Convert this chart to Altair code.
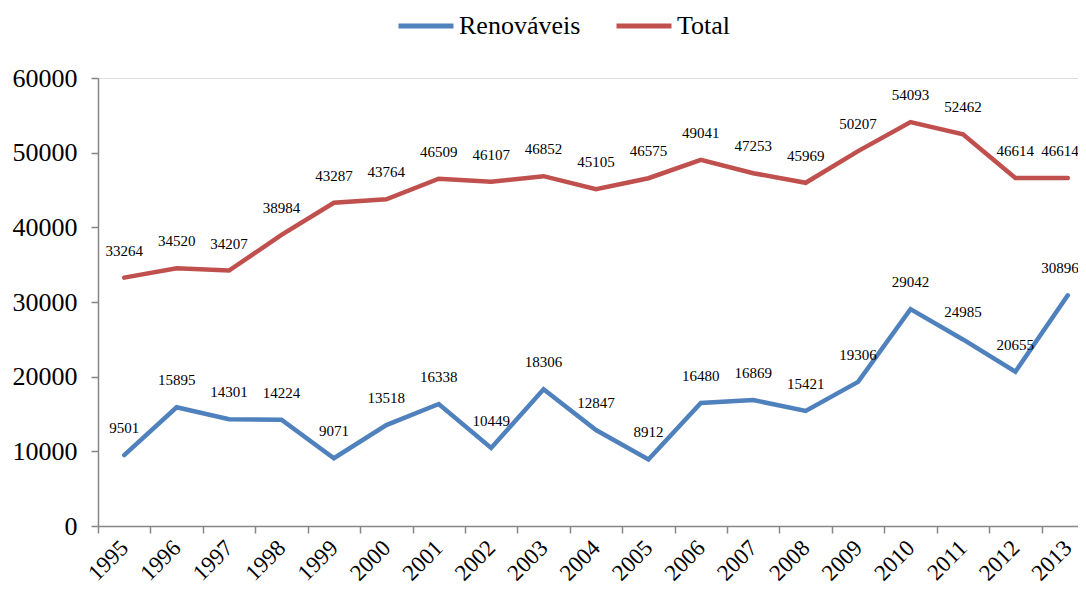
import altair as alt
import pandas as pd

years = [str(y) for y in range(1995, 2014)]
renovaveis = [9501, 15895, 14301, 14224, 9071, 13518, 16338, 10449, 18306, 12847,
              8912, 16480, 16869, 15421, 19306, 29042, 24985, 20655, 30896]
total = [33264, 34520, 34207, 38984, 43287, 43764, 46509, 46107, 46852, 45105,
         46575, 49041, 47253, 45969, 50207, 54093, 52462, 46614, 46614]
series_names = ["Renováveis", "Total"]
series_colors = ["#4F81BD", "#C0504D"]
y_ticks = [0, 10000, 20000, 30000, 40000, 50000, 60000]

rows = []
for name, vals in zip(series_names, [renovaveis, total]):
    for yr, v in zip(years, vals):
        rows.append({"ano": yr, "valor": v, "serie": name})
df = pd.DataFrame(rows)
last_year = years[-1]

FONT = "Liberation Serif"

x = alt.X("ano:O", title=None, bandPosition=0.5,
          scale=alt.Scale(type="band", paddingInner=0, paddingOuter=0, range=[0, 996]),
          axis=alt.Axis(labelAngle=-45, labelAlign="right", labelBaseline="middle",
                        labelFontSize=23, labelFont=FONT, labelColor="#000000",
                        labelPadding=11, tickBand="extent", tickSize=7,
                        tickColor="#868686", domainColor="#868686", domainWidth=1.5,
                        tickWidth=1.5, grid=False, labelOverlap=False))
y = alt.Y("valor:Q", title=None,
          scale=alt.Scale(domain=[0, 60000], nice=False),
          axis=alt.Axis(values=y_ticks, format="d", labelFontSize=26, labelFont=FONT,
                        labelColor="#000000", labelPadding=14, tickSize=7,
                        tickColor="#868686", domainColor="#868686", domainWidth=1.5,
                        tickWidth=1.5, grid=False))
color = alt.Color("serie:N", scale=alt.Scale(domain=series_names, range=series_colors),
                  legend=alt.Legend(title=None, orient="none", direction="horizontal",
                                    legendX=298, legendY=-82, symbolType="stroke",
                                    symbolSize=3025, symbolStrokeWidth=5,
                                    labelFontSize=26, labelFont=FONT, labelColor="#000000",
                                    columnPadding=25, labelOffset=3, padding=0))

base = alt.Chart(df)
lines = base.mark_line(strokeWidth=4.5, strokeCap="round", strokeJoin="miter").encode(
    x=x, y=y, color=color)
labels = base.transform_filter(alt.datum.ano != last_year).mark_text(
    font=FONT, fontSize=15, dy=-22, baseline="alphabetic", color="#000000").encode(
    x=x, y=y, text=alt.Text("valor:Q", format="d"))
labels_last = base.transform_filter(alt.datum.ano == last_year).mark_text(
    font=FONT, fontSize=15, dy=-22, dx=11, align="right", baseline="alphabetic",
    color="#000000").encode(
    x=x, y=y, text=alt.Text("valor:Q", format="d"))

chart = (lines + labels + labels_last).properties(
    width=980, height=448,
    padding={"left": 90, "top": 70, "right": 0, "bottom": 61},
    autosize=alt.AutoSizeParams(type="none"),
).configure_view(stroke=None).configure(background="white", font=FONT)

chart.save("out.html", embed_options={"renderer": "svg", "actions": False})
